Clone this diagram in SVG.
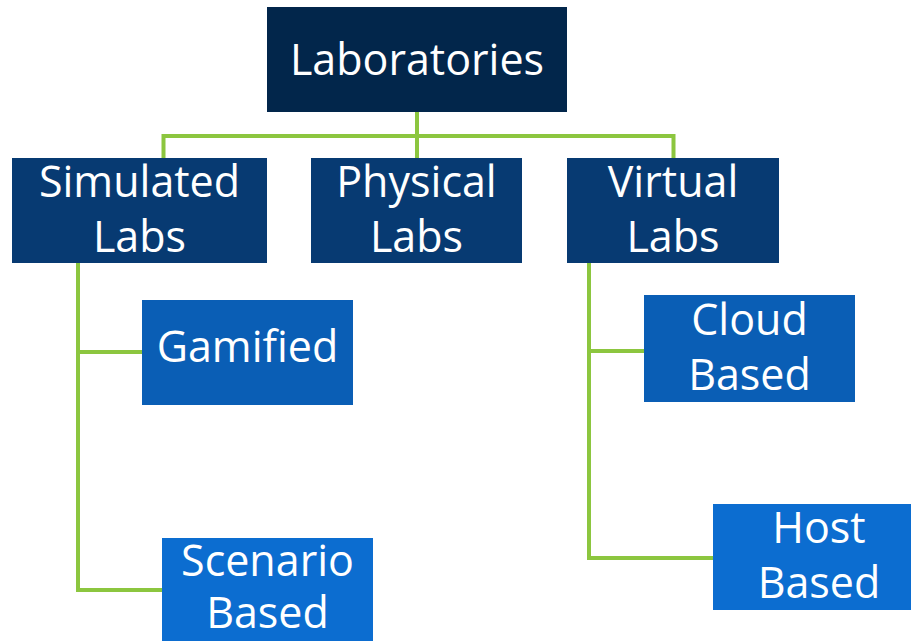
<svg xmlns="http://www.w3.org/2000/svg" width="911" height="641" viewBox="0 0 911 641">
<style>
  .conn { fill: none; stroke: #8cc63f; stroke-width: 4; stroke-linejoin: miter; stroke-linecap: butt; }
  .t { font-family: "Open Sans", "Liberation Sans", sans-serif; font-size: 43px; fill: #ffffff; text-anchor: middle; }
  .l1 { fill: #02264b; }
  .l2 { fill: #073a72; }
  .l3a { fill: #0a5eb5; }
  .l3b { fill: #0c6dd0; }
</style>
<rect width="911" height="641" fill="#ffffff"/>
<g id="connectors">
  <path class="conn" d="M417 112 V136 M163.5 158 V136 H673.5 V158 M417 136 V158"/>
  <path class="conn" d="M78 263 V590 H162 M78 352 H142"/>
  <path class="conn" d="M589 263 V558 H713 M589 351 H644"/>
</g>
<g id="laboratories">
  <rect class="l1" x="267" y="7" width="300" height="105"/>
  <text class="t" x="417" y="75">Laboratories</text>
</g>
<g id="simulated-labs">
  <rect class="l2" x="12" y="158" width="255" height="105"/>
  <text class="t" x="139.5" y="197">Simulated</text>
  <text class="t" x="139.5" y="252">Labs</text>
</g>
<g id="physical-labs">
  <rect class="l2" x="311" y="158" width="211" height="105"/>
  <text class="t" x="416.5" y="197">Physical</text>
  <text class="t" x="416.5" y="252">Labs</text>
</g>
<g id="virtual-labs">
  <rect class="l2" x="567" y="158" width="212" height="105"/>
  <text class="t" x="673" y="197">Virtual</text>
  <text class="t" x="673" y="252">Labs</text>
</g>
<g id="gamified">
  <rect class="l3a" x="142" y="300" width="211" height="105"/>
  <text class="t" x="247.5" y="362">Gamified</text>
</g>
<g id="cloud-based">
  <rect class="l3a" x="644" y="295" width="211" height="107"/>
  <text class="t" x="749.5" y="335">Cloud</text>
  <text class="t" x="749.5" y="390">Based</text>
</g>
<g id="scenario-based">
  <rect class="l3b" x="162" y="538" width="211" height="110"/>
  <text class="t" x="267.5" y="576">Scenario</text>
  <text class="t" x="267.5" y="628">Based</text>
</g>
<g id="host-based">
  <rect class="l3b" x="713" y="504" width="212" height="106"/>
  <text class="t" x="819" y="543">Host</text>
  <text class="t" x="819" y="598">Based</text>
</g>
</svg>
